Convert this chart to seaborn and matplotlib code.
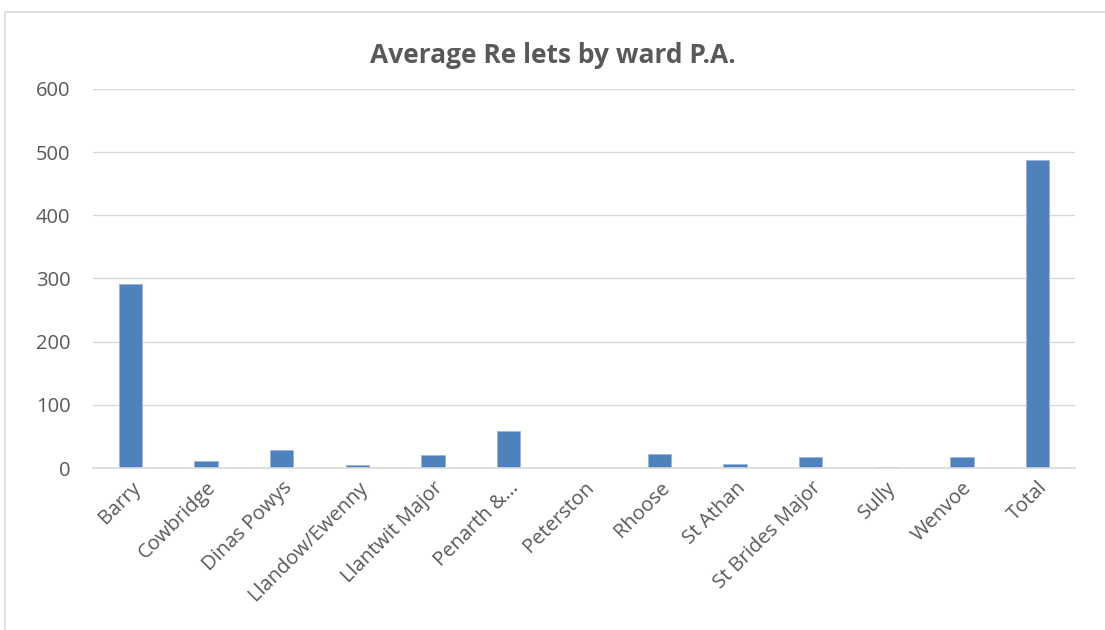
import matplotlib
matplotlib.use("Agg")
import matplotlib.pyplot as plt
import seaborn as sns
import pandas as pd
from matplotlib.patches import Rectangle

wards = ["Barry", "Cowbridge", "Dinas Powys", "Llandow/Ewenny", "Llantwit Major",
         "Penarth &...", "Peterston", "Rhoose", "St Athan", "St Brides Major",
         "Sully", "Wenvoe", "Total"]
relets = [292, 12, 28, 5, 21, 59, 0.5, 22, 6, 17, 2, 17, 488]
yticks = [0, 100, 200, 300, 400, 500, 600]

df = pd.DataFrame({"ward": wards, "relets": relets})

sns.set_theme(style="white")
plt.rcParams["font.family"] = ["Open Sans", "DejaVu Sans"]

fig = plt.figure(figsize=(11.05, 6.3), dpi=100)
fig.patches.append(Rectangle((5 / 1105, -0.1), 1.2, 1.1 - 12 / 630, transform=fig.transFigure,
                             fill=False, edgecolor="#d9d9d9", linewidth=1.2))
ax = fig.add_axes([0.084, 0.257, 0.889, 0.602])

sns.barplot(data=df, x="ward", y="relets", color="#4F81BD", saturation=1,
            width=0.31, ax=ax, edgecolor="#9bb6dc", linewidth=0.6)

ax.set_ylim(0, 600)
ax.set_yticks(yticks)
ax.set_xlim(-0.5, len(wards) - 0.5)
ax.yaxis.grid(True, color="#d9d9d9", linewidth=1)
ax.set_axisbelow(True)
for s in ["top", "right", "left"]:
    ax.spines[s].set_visible(False)
ax.spines["bottom"].set_color("#d9d9d9")
ax.spines["bottom"].set_linewidth(1.2)
ax.set_xlabel("")
ax.set_ylabel("")
ax.tick_params(axis="both", length=0, colors="#595959", labelsize=14.5)
ax.tick_params(axis="y", pad=16)
plt.setp(ax.get_xticklabels(), rotation=45, ha="right", rotation_mode="anchor")
ax.tick_params(axis="x", pad=7)

fig.text(0.5, 0.912, "Average Re lets by ward P.A.", ha="center", va="center",
         fontsize=19, fontweight="bold", color="#595959")

fig.savefig("out.png", dpi=100)
